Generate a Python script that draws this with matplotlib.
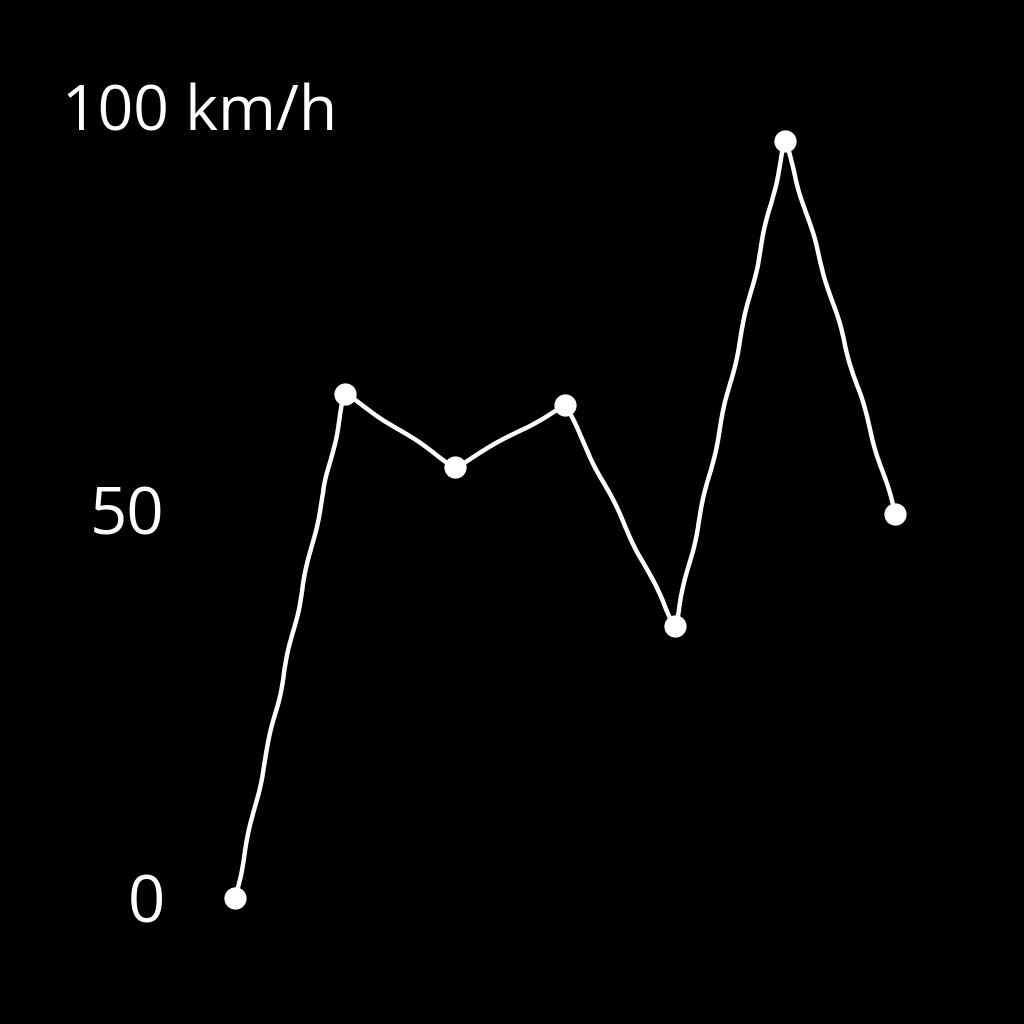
import numpy as np
import matplotlib.pyplot as plt

# speed readings (km/h)
points = [0, 1, 2, 3, 4, 5, 6]
speed = [0, 65, 55.5, 63.5, 35, 97.5, 49.5]
tick_vals = [0, 50]
tick_text = ['0', '50']
top_label = '100 km/h'

with plt.xkcd():
    plt.rcParams['path.effects'] = []
    plt.rcParams['font.family'] = ['Open Sans', 'DejaVu Sans']

    fig = plt.figure(figsize=(10.24, 10.24), dpi=100,
                     facecolor='black', edgecolor='black', linewidth=0)
    fig.patch.set_sketch_params(None)
    ax = fig.add_axes([0.1758, 0.0852, 0.752, 0.8336], facecolor='black')
    ax.patch.set_edgecolor('black')

    ax.plot(points, speed, color='white', linewidth=3.2,
            marker='o', markersize=15, markerfacecolor='white',
            markeredgecolor='white', clip_on=False)

    ax.set_xlim(-0.5, 6.5)
    ax.set_ylim(-5, 105)
    ax.set_xticks([])
    ax.set_yticks(tick_vals)
    ax.set_yticklabels(tick_text)
    ax.tick_params(axis='y', length=0, pad=11, labelsize=47, colors='white')
    for s in ax.spines.values():
        s.set_visible(False)

    ax.text(62 / 1024, 101, top_label, color='white', fontsize=45,
            ha='left', va='center',
            transform=ax.get_yaxis_transform().__class__(fig.transFigure, ax.transData))

    fig.savefig('out.png', dpi=100, facecolor='black', edgecolor='black')
